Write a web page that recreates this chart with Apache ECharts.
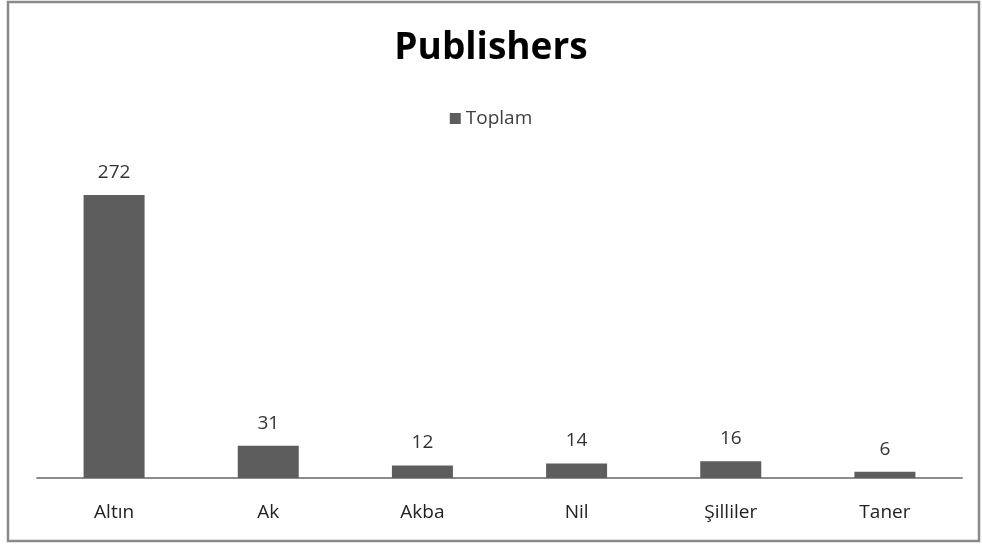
<!DOCTYPE html>
<html>
<head>
<meta charset="utf-8">
<script src="https://cdn.jsdelivr.net/npm/echarts@6/dist/echarts.min.js"></script>
<style>
html,body{margin:0;padding:0;background:#fff;}
#c{width:982px;height:544px;}
</style>
</head>
<body>
<div id="c"></div>
<script>
const categories = ['Altın', 'Ak', 'Akba', 'Nil', 'Şilliler', 'Taner'];
const seriesName = 'Toplam';
const values = [272, 31, 12, 14, 16, 6];
const titleText = 'Publishers';

const chart = echarts.init(document.getElementById('c'));
const font = '"Open Sans", Lato, "Noto Sans", sans-serif';
chart.setOption({
  backgroundColor: '#fff',
  animation: false,
  graphic: [{
    type: 'rect',
    shape: {x: 8, y: 2, width: 971, height: 539},
    style: {fill: 'none', stroke: '#8a8a8a', lineWidth: 2.5},
    silent: true
  }],
  title: {
    text: titleText,
    left: 'center',
    top: 25,
    textStyle: {fontFamily: font, fontSize: 37, fontWeight: 'bold', color: '#000'}
  },
  legend: {
    data: [seriesName],
    top: 104,
    left: 'center',
    icon: 'rect',
    itemWidth: 11,
    itemHeight: 11,
    itemGap: 8,
    textStyle: {fontFamily: font, fontSize: 19, color: '#404040'}
  },
  grid: {left: 37, right: 20, top: 166, bottom: 66, containLabel: false},
  xAxis: {
    type: 'category',
    data: categories,
    axisLine: {lineStyle: {color: '#8c8c8c', width: 2}},
    axisTick: {show: false},
    axisLabel: {fontFamily: font, fontSize: 19, color: '#222', margin: 25}
  },
  yAxis: {
    type: 'value',
    min: 0,
    max: 300,
    show: false,
    splitLine: {show: false}
  },
  series: [{
    name: seriesName,
    type: 'bar',
    data: values,
    barWidth: 61,
    itemStyle: {color: '#5d5d5d'},
    label: {
      show: true,
      position: 'top',
      distance: 13,
      fontFamily: font,
      fontSize: 19,
      color: '#333'
    }
  }]
});
</script>
</body>
</html>
